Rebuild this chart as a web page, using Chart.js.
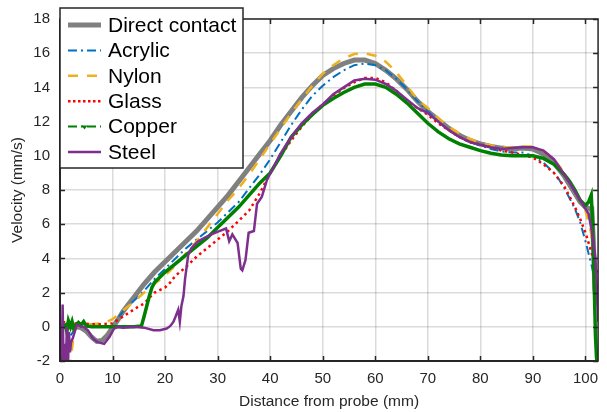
<!DOCTYPE html>
<html>
<head>
<meta charset="utf-8">
<script src="https://cdn.jsdelivr.net/npm/chart.js@4.4.1/dist/chart.umd.min.js"></script>
<style>
  html, body { margin: 0; padding: 0; background: #fff; }
  #wrap { width: 607px; height: 412px; }
</style>
</head>
<body>
<div id="wrap"><canvas id="velChart"></canvas></div>
<script>
// velocity profiles (x in mm, y in mm/s)
const xDirect = [0,1,2,3,4,5,6,7,8,9,10,11,12,13,14,16,18,20,22,24,26,28,30,32,34,36,38,40,42,44,46,48,50,52,54,56,58,60,62,64,66,68,70,72,74,76,78,80,82,84,86,88,90,92,94,96,97,98,99,100,100.8,101.2,101.5,101.8,102.1,102.4];
const yDirect = [0,0.05,0,0,-0.05,-0.25,-0.6,-0.85,-0.8,-0.5,-0.05,0.4,0.9,1.3,1.7,2.5,3.2,3.8,4.4,5.0,5.6,6.3,7.0,7.7,8.5,9.3,10.1,10.9,11.8,12.6,13.4,14.1,14.7,15.1,15.4,15.6,15.6,15.4,15.0,14.5,13.9,13.2,12.6,12.1,11.6,11.2,10.9,10.7,10.55,10.45,10.4,10.45,10.4,10.1,9.6,8.8,8.3,7.8,7.3,7.0,6.9,6.9,5.0,2.2,1.6,1.3];

const xAcrylic = [2,3,4,6,8,10,11,12,13,14,16,18,20,22,24,26,28,30,32,34,36,38,40,42,44,46,48,50,52,54,56,58,60,62,64,66,68,70,72,74,76,78,80,82,84,86,88,90,92,94,95,96,97,98,99,100,101,102,102.4];
const yAcrylic = [-0.5,-0.1,0,0,0,0.05,0.5,0.9,1.2,1.5,2.1,2.8,3.4,4.0,4.6,5.1,5.6,6.1,6.7,7.3,8.1,8.9,9.8,10.8,11.8,12.7,13.5,14.1,14.6,15.0,15.3,15.4,15.3,15.0,14.5,13.9,13.2,12.6,12.0,11.5,11.1,10.8,10.6,10.4,10.25,10.2,10.2,10.0,9.6,9.0,8.6,8.1,7.5,6.9,6.1,5.0,3.8,2.5,1.6];

const xNylon = [1.8,2.2,2.6,3,4,6,8,9,10,11,12,13,14,16,18,20,22,24,26,28,30,32,34,36,38,40,42,44,46,48,50,52,54,56,58,60,62,64,66,68,70,72,74,76,78,80,82,84,86,88,90,92,94,96,97,98,99,100,101,101.5,102,102.4];
const yNylon = [-2.5,-1.5,-0.5,0,0.1,0.15,0.2,0.3,0.45,0.7,0.95,1.2,1.45,2.0,2.5,3.0,3.6,4.3,5.0,5.8,6.6,7.4,8.1,8.9,9.8,10.7,11.6,12.5,13.3,14.1,14.8,15.3,15.7,15.95,16.0,15.85,15.5,14.9,14.1,13.3,12.8,12.2,11.7,11.3,11.0,10.75,10.6,10.5,10.5,10.55,10.55,10.3,9.8,9.0,8.5,7.9,7.4,6.8,5.6,4.5,3.2,2.0];

const xGlass = [0.5,1,2,4,6,8,10,11,12,13,14,15,16,17,18,19,20,21,22,24,26,28,30,32,34,36,38,40,42,44,46,48,50,52,54,56,58,60,62,64,66,68,70,72,74,76,78,80,82,84,86,88,90,92,94,96,98,99,100,101,102,102.4];
const yGlass = [0.3,0.25,0.2,0.2,0.15,0.15,0.2,0.4,0.6,0.8,1.0,1.2,1.35,1.7,2.0,2.15,2.3,2.6,3.0,3.5,4.1,4.6,5.1,5.6,6.2,6.8,7.8,9.0,10.0,10.9,11.7,12.4,13.0,13.5,13.95,14.3,14.55,14.55,14.3,13.8,13.2,12.8,12.4,11.9,11.5,11.1,10.8,10.65,10.5,10.3,10.2,10.05,9.9,9.5,9.0,8.2,7.0,6.3,5.5,4.5,3.4,3.0];

const xCopper = [0.5,1,1.3,1.6,2,2.3,2.6,3,3.5,4,4.5,5,6,8,10,12,14,15.5,16,16.5,17,17.5,18,19,20,22,24,26,28,30,32,34,36,38,40,42,44,46,48,50,52,54,56,58,60,62,64,66,68,70,72,74,76,78,80,82,84,86,88,90,92,94,96,97,98,99,100,100.6,101.1,101.3,101.5,101.7,101.9,102.1,102.4];
const yCopper = [0,0.1,-0.3,0.35,0,0.3,-0.1,0.1,0.25,0.1,0.3,0.05,0,0,0,0,0,0.05,0.6,1.2,1.8,2.3,2.6,2.9,3.2,3.7,4.2,4.7,5.2,5.8,6.4,7.0,7.7,8.4,9.0,10.0,11.1,11.8,12.4,12.95,13.35,13.7,14.0,14.2,14.2,14.0,13.6,13.1,12.5,11.9,11.4,11.0,10.7,10.5,10.3,10.15,10.05,10.0,10.0,10.0,9.85,9.5,8.9,8.5,8.0,7.4,7.1,7.3,7.7,6.5,4.5,2.0,-0.5,-1.8,-2.5];

const xSteel = [0.3,0.5,0.7,0.9,1.1,1.3,1.5,1.7,1.9,2.1,2.4,2.8,3.2,3.8,4.5,5.3,6.3,7.2,8.4,9.4,10.3,11,12,14,16,17.8,19,20.3,21,21.6,22,22.5,22.8,23.1,23.5,23.8,24.4,25,26.3,27.5,28.8,30.3,31.6,32.2,32.8,33.8,34.4,34.7,35.3,35.9,36.9,37.5,38.4,39.4,40.6,41.9,44,46,48,50,52,54,56,58,60,62,64,66,68,70,72,74,76,78,80,82,84,86,88,90,92,94,96,98,99,100,100.6,101.2,101.9,102.2,102.4];
const ySteel = [-2.5,1.3,-2.5,-1,-2.5,0,-2.5,-0.3,-1.5,-0.9,-0.7,-0.3,0.1,0.05,0,-0.2,-0.7,-0.9,-1.0,-0.6,-0.1,0,-0.05,0,-0.05,-0.2,-0.2,-0.1,0.05,0.3,0.6,1.0,0.3,1.2,1.8,2.8,4.2,4.6,5.0,5.2,5.4,5.6,5.75,5.0,5.4,4.9,3.4,3.3,3.9,5.5,5.6,7.2,7.6,8.6,9.3,10.1,11.1,11.9,12.5,13.0,13.6,14.0,14.4,14.5,14.45,14.2,13.8,13.3,12.8,12.5,12.0,11.5,11.1,10.8,10.65,10.5,10.4,10.45,10.5,10.5,10.3,9.8,8.9,7.9,7.4,6.9,6.6,5.6,4.0,2.0,0.3];

const xTicks = [0,10,20,30,40,50,60,70,80,90,100];
const yTicks = [-2,0,2,4,6,8,10,12,14,16,18];

function pts(xs, ys) {
  return xs.map((x, i) => ({ x: x, y: ys[i] }));
}

const axisColor = '#262626';

// legend samples (drawn inside the plot, top-left like the original)
const legendItems = [
  { text: 'Direct contact', color: '#808080', width: 5, dash: [] },
  { text: 'Acrylic', color: '#0072BD', width: 2, dash: [9, 4, 2, 4] },
  { text: 'Nylon', color: '#EDB120', width: 2.5, dash: [10, 9] },
  { text: 'Glass', color: '#FF0000', width: 2.5, dash: [2.5, 2.5] },
  { text: 'Copper', color: '#008000', width: 2, dash: [9, 4, 2, 4], marker: true },
  { text: 'Steel', color: '#7E2F8E', width: 2.5, dash: [] }
];

const boxPlugin = {
  id: 'boxPlugin',
  afterDatasetsDraw(chart) {
    const ctx = chart.ctx;
    const a = chart.chartArea;
    const xs = chart.scales.x, ys = chart.scales.y;
    ctx.save();
    ctx.strokeStyle = axisColor;
    ctx.lineWidth = 1.5;
    ctx.strokeRect(a.left, a.top, a.right - a.left, a.bottom - a.top);
    ctx.beginPath();
    xTicks.forEach(v => {
      const p = Math.round(xs.getPixelForValue(v)) + 0.5;
      ctx.moveTo(p, a.bottom); ctx.lineTo(p, a.bottom - 5);
      ctx.moveTo(p, a.top); ctx.lineTo(p, a.top + 5);
    });
    yTicks.forEach(v => {
      const p = Math.round(ys.getPixelForValue(v)) + 0.5;
      ctx.moveTo(a.left, p); ctx.lineTo(a.left + 5, p);
      ctx.moveTo(a.right, p); ctx.lineTo(a.right - 5, p);
    });
    ctx.stroke();
    // left and bottom axes a bit heavier
    ctx.lineWidth = 2;
    ctx.beginPath();
    ctx.moveTo(a.left, a.top); ctx.lineTo(a.left, a.bottom); ctx.lineTo(a.right, a.bottom);
    ctx.stroke();
    ctx.restore();
  },
  afterDraw(chart) {
    const ctx = chart.ctx;
    const bx = 60, by = 8, bw = 183, bh = 160;
    ctx.save();
    ctx.fillStyle = '#fff';
    ctx.fillRect(bx, by, bw, bh);
    ctx.strokeStyle = axisColor;
    ctx.lineWidth = 1.5;
    ctx.strokeRect(bx, by, bw, bh);
    ctx.font = '21px "Liberation Sans", Arial, sans-serif';
    ctx.textBaseline = 'middle';
    ctx.textAlign = 'left';
    legendItems.forEach((it, i) => {
      const cy = by + 17 + i * 25.4;
      ctx.strokeStyle = it.color;
      ctx.lineWidth = it.width;
      ctx.setLineDash(it.dash);
      ctx.lineCap = 'butt';
      ctx.beginPath();
      ctx.moveTo(68, cy); ctx.lineTo(101, cy);
      ctx.stroke();
      ctx.setLineDash([]);
      if (it.marker) {
        ctx.fillStyle = it.color;
        ctx.beginPath();
        ctx.moveTo(81.5, cy - 1); ctx.lineTo(87.5, cy - 1); ctx.lineTo(84.5, cy + 3);
        ctx.closePath();
        ctx.fill();
      }
      ctx.fillStyle = '#000';
      ctx.fillText(it.text, 108, cy + 1);
    });
    ctx.restore();
  }
};

function series(label, xs, ys, color, width, dash, order) {
  return {
    label: label,
    data: pts(xs, ys),
    borderColor: color,
    backgroundColor: color,
    borderWidth: width,
    borderDash: dash,
    pointRadius: 0,
    tension: 0,
    fill: false,
    clip: 0,
    order: order
  };
}

const ctx = document.getElementById('velChart');

new Chart(ctx, {
  type: 'line',
  data: {
    datasets: [
      series('Direct contact', xDirect, yDirect, '#808080', 5, [], 6),
      series('Acrylic', xAcrylic, yAcrylic, '#0072BD', 2, [9, 4, 2, 4], 5),
      series('Nylon', xNylon, yNylon, '#EDB120', 2.5, [10, 9], 4),
      series('Glass', xGlass, yGlass, '#FF0000', 2.5, [2.5, 3.5], 3),
      series('Copper', xCopper, yCopper, '#008000', 3.5, [], 2),
      series('Steel', xSteel, ySteel, '#7E2F8E', 2.5, [], 1)
    ]
  },
  options: {
    responsive: true,
    maintainAspectRatio: false,
    animation: false,
    layout: { padding: { top: 13, right: 1, left: 0, bottom: 0 } },
    plugins: {
      legend: { display: false },
      tooltip: { enabled: false }
    },
    scales: {
      x: {
        type: 'linear',
        min: 0,
        max: 102.4,
        afterFit: s => { s.height = 51; },
        afterBuildTicks: s => { s.ticks = xTicks.map(v => ({ value: v })); },
        ticks: {
          padding: 9,
          color: axisColor,
          font: { size: 15, family: '"Liberation Sans", Arial, sans-serif' }
        },
        grid: { color: 'rgba(0,0,0,0.14)', lineWidth: 1.5, drawTicks: false },
        border: { display: false },
        title: {
          display: true,
          text: 'Distance from probe (mm)',
          color: axisColor,
          padding: { top: 0, bottom: 1 },
          font: { size: 15.5, family: '"Liberation Sans", Arial, sans-serif' }
        }
      },
      y: {
        min: -2,
        max: 18,
        afterFit: s => { s.width = 60; },
        afterBuildTicks: s => { s.ticks = yTicks.map(v => ({ value: v })); },
        ticks: {
          padding: 10,
          color: axisColor,
          font: { size: 15, family: '"Liberation Sans", Arial, sans-serif' }
        },
        grid: { color: 'rgba(0,0,0,0.14)', lineWidth: 1.5, drawTicks: false },
        border: { display: false },
        title: {
          display: true,
          text: 'Velocity (mm/s)',
          color: axisColor,
          padding: { top: 8, bottom: 0 },
          font: { size: 15.5, family: '"Liberation Sans", Arial, sans-serif' }
        }
      }
    }
  },
  plugins: [boxPlugin]
});
</script>
</body>
</html>
